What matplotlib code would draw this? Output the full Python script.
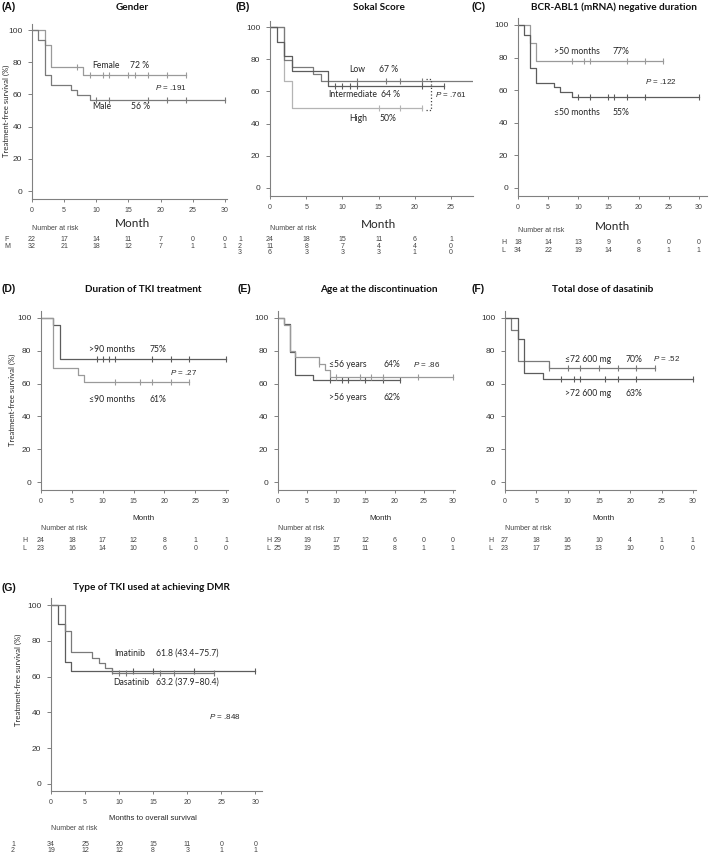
import numpy as np
import matplotlib.pyplot as plt
from matplotlib import transforms

plt.rcParams['font.family'] = ['Liberation Sans', 'DejaVu Sans']
plt.rcParams['mathtext.fontset'] = 'custom'
plt.rcParams['mathtext.rm'] = 'Liberation Sans'
plt.rcParams['mathtext.it'] = 'Liberation Sans:italic'

W, H = 709, 856
LBL = ['Lato', 'DejaVu Sans']
NARROW = ['Liberation Sans Narrow', 'Liberation Sans']
TXT = '#262626'

# ---------------- (A) Gender
a_f_t = [0, 2, 3, 8]
a_f_s = [100, 90.9, 77.3, 72.2]
a_f_end = 24
a_f_cens = [7, 9, 11, 12, 15, 16, 18, 21, 24]
a_m_t = [0, 1, 2, 3, 6, 7, 9]
a_m_s = [100, 93.8, 71.9, 65.6, 62.5, 59.4, 56.3]
a_m_end = 30
a_m_cens = [10, 12, 18, 21, 24, 30]
a_risk_rows = ['F', 'M']
a_risk = [[22, 17, 14, 11, 7, 0, 0], [32, 21, 18, 12, 7, 1, 1]]

# ---------------- (B) Sokal score
b_low_t = [0, 2, 3, 6, 7]
b_low_s = [100, 79.2, 75.0, 70.8, 66.7]
b_low_end = 27.9
b_low_cens = [12, 16, 18, 21]
b_int_t = [0, 1, 2, 3, 8]
b_int_s = [100, 90.9, 81.8, 72.7, 63.6]
b_int_end = 24
b_int_cens = [9, 10, 11, 12, 21, 24]
b_high_t = [0, 2, 3]
b_high_s = [100, 66.7, 50.0]
b_high_end = 21
b_high_cens = [15, 18, 21]
b_bracket_x = [21.5, 22.2, 22.2, 21.5]
b_bracket_y = [67.5, 67.5, 48.5, 48.5]
b_risk_rows = ['1', '2', '3']
b_risk = [[24, 18, 15, 11, 6, 1], [11, 8, 7, 4, 4, 0], [6, 3, 3, 3, 1, 0]]

# ---------------- (C) BCR-ABL1 negative duration
c_h_t = [0, 2, 3]
c_h_s = [100, 88.9, 77.8]
c_h_end = 24
c_h_cens = [9, 11, 12, 18, 21, 24]
c_l_t = [0, 1, 2, 3, 6, 7, 9]
c_l_s = [100, 94.1, 73.5, 64.7, 61.8, 58.8, 55.9]
c_l_end = 30
c_l_cens = [10, 12, 15, 16, 18, 21, 30]
c_risk_rows = ['H', 'L']
c_risk = [[18, 14, 13, 9, 6, 0, 0], [34, 22, 19, 14, 8, 1, 1]]

# ---------------- (D) Duration of TKI treatment
d_h_t = [0, 2, 3]
d_h_s = [100, 95.8, 75.0]
d_h_end = 30
d_h_cens = [9, 10, 11, 12, 18, 21, 24, 30]
d_l_t = [0, 2, 6, 7]
d_l_s = [100, 69.6, 65.2, 60.9]
d_l_end = 24
d_l_cens = [12, 16, 18, 21, 24]
d_risk_rows = ['H', 'L']
d_risk = [[24, 18, 17, 12, 8, 1, 1], [23, 16, 14, 10, 6, 0, 0]]

# ---------------- (E) Age at the discontinuation
e_l_t = [0, 1, 2, 3, 7, 8, 9]
e_l_s = [100, 96.0, 80.0, 76.0, 72.0, 68.0, 64.0]
e_l_end = 30
e_l_cens = [7, 10, 14, 16, 18, 24, 30]
e_h_t = [0, 1, 2, 3, 6]
e_h_s = [100, 96.6, 79.3, 65.5, 62.1]
e_h_end = 21
e_h_cens = [9, 11, 12, 15, 18, 21]
e_risk_rows = ['H', 'L']
e_risk = [[29, 19, 17, 12, 6, 0, 0], [25, 19, 15, 11, 8, 1, 1]]

# ---------------- (F) Total dose of dasatinib
f_lo_t = [0, 1, 2, 7]
f_lo_s = [100, 92.6, 73.9, 69.6]
f_lo_end = 24
f_lo_cens = [7, 10, 12, 15, 18, 21, 24]
f_hi_t = [0, 2, 3, 6]
f_hi_s = [100, 87.0, 66.7, 63.0]
f_hi_end = 30
f_hi_cens = [9, 11, 12, 16, 18, 21, 30]
f_risk_rows = ['H', 'L']
f_risk = [[27, 18, 16, 10, 4, 1, 1], [23, 17, 15, 13, 10, 0, 0]]

# ---------------- (G) Type of TKI
g_ima_t = [0, 2, 3, 6, 7, 8, 9]
g_ima_s = [100, 85.3, 73.5, 70.6, 67.6, 64.7, 61.8]
g_ima_end = 24
g_ima_cens = [10, 11, 16, 18, 24]
g_das_t = [0, 1, 2, 3]
g_das_s = [100, 89.5, 68.4, 63.2]
g_das_end = 30
g_das_cens = [9, 12, 15, 21, 30]
g_risk_rows = ['1', '2']
g_risk = [[34, 25, 20, 15, 11, 0, 0], [19, 12, 12, 8, 3, 1, 1]]

months30 = [0, 5, 10, 15, 20, 25, 30]
months25 = [0, 5, 10, 15, 20, 25]
yticks = [0, 20, 40, 60, 80, 100]

fig = plt.figure(figsize=(W / 100, H / 100), dpi=100)


def px(x, y):
    return x / W, 1 - y / H


def make_ax(left, ppm, xmax, y100, y0, xticks, ymin=-5, ymax=104, ylabpad=4):
    ppu = (y0 - y100) / 100.0
    top = y100 - (ymax - 100) * ppu
    bottom = y0 - ymin * ppu
    right = left + xmax * ppm
    ax = fig.add_axes([left / W, 1 - bottom / H, (right - left) / W, (bottom - top) / H])
    ax.set_xlim(0, xmax)
    ax.set_ylim(ymin, ymax)
    for s in ['top', 'right']:
        ax.spines[s].set_visible(False)
    for s in ['left', 'bottom']:
        ax.spines[s].set_color('#808080')
        ax.spines[s].set_linewidth(0.8)
    ax.set_xticks(xticks)
    ax.set_yticks(yticks)
    ax.tick_params(axis='y', length=3, width=0.7, color='#808080', labelsize=6,
                   pad=ylabpad, labelcolor='#333333')
    ax.tick_params(axis='x', length=2.5, width=0.7, color='#808080', labelsize=5,
                   pad=3, labelcolor='#444444')
    ax.patch.set_alpha(0)
    return ax


def km(ax, t, s, end, cens, color):
    tt = list(t) + [end]
    ss = list(s) + [s[-1]]
    ax.step(tt, ss, where='post', color=color, lw=0.9)
    idx = np.searchsorted(t, cens, side='right') - 1
    ax.plot(cens, np.array(s)[idx], ls='none', marker='|', ms=4.5, mew=0.8, color=color)


def note(ax, x, y, s, size=6.2, fam=LBL):
    ax.text(x, y, s, fontsize=size, family=fam, color=TXT, ha='left', va='center')


def pval(ax, x, y, s):
    ax.text(x, y, r'$P$ = ' + s, fontsize=5.8, color=TXT, ha='left', va='center')


def heading(letter, lx, title, cx, y):
    fig.text(*px(lx, y), letter, fontsize=7.5, fontweight='bold', color='#111111',
             ha='left', va='center')
    fig.text(*px(cx, y), title, fontsize=7.2, fontweight='bold', family=LBL,
             color='#111111', ha='center', va='center')


def risk_table(ax, months, rows, values, lab_x, head_y, row_ys):
    trans = transforms.blended_transform_factory(ax.transData, fig.transFigure)
    ax.text(0, 1 - head_y / H, 'Number at risk', transform=trans, fontsize=5,
            family=NARROW, color='#444444', ha='left', va='center')
    for lab, vals, ry in zip(rows, values, row_ys):
        fig.text(*px(lab_x, ry), lab, fontsize=5, family=NARROW, color='#444444',
                 ha='left', va='center')
        for m, v in zip(months, vals):
            ax.text(m, 1 - ry / H, str(v), transform=trans, fontsize=5,
                    family=NARROW, color='#444444', ha='center', va='center')


def ylab(x, y, size=5.6):
    fig.text(*px(x, y), 'Treatment-free survival (%)', rotation=90, fontsize=size,
             family=LBL, color=TXT, ha='center', va='center')


LIGHT, MID, DARK = '#9a9a9a', '#7a7a7a', '#5c5c5c'

# ---- A
ax = make_ax(32, 6.43, 30.3, 30, 191, months30)
km(ax, a_f_t, a_f_s, a_f_end, a_f_cens, LIGHT)
km(ax, a_m_t, a_m_s, a_m_end, a_m_cens, MID)
note(ax, 9.4, 78, 'Female')
note(ax, 15.3, 78, '72 %')
pval(ax, 19.1, 64.4, '.191')
note(ax, 9.4, 52.4, 'Male')
note(ax, 15.4, 52.4, '56 %')
heading('(A)', 2, 'Gender', 132, 7)
fig.text(*px(132, 223), 'Month', fontsize=8.5, family=LBL, color=TXT, ha='center', va='center')
ylab(6, 111)
risk_table(ax, months30, a_risk_rows, a_risk, 4, 228, [239, 246])

# ---- B
ax = make_ax(270, 7.24, 28.0, 27, 188, months25)
km(ax, b_high_t, b_high_s, b_high_end, b_high_cens, '#b4b4b4')
km(ax, b_low_t, b_low_s, b_low_end, b_low_cens, MID)
km(ax, b_int_t, b_int_s, b_int_end, b_int_cens, DARK)
ax.plot(b_bracket_x, b_bracket_y, ls=':', color='#444444', lw=0.9)
note(ax, 11.0, 73.7, 'Low')
note(ax, 15.1, 73.7, '67 %')
note(ax, 8.1, 57.8, 'Intermediate')
note(ax, 15.3, 57.8, '64 %')
note(ax, 11.0, 42.9, 'High')
note(ax, 15.1, 42.9, '50%')
pval(ax, 22.8, 57.8, '.761')
heading('(B)', 236, 'Sokal Score', 379, 7)
fig.text(*px(379, 224), 'Month', fontsize=8.5, family=LBL, color=TXT, ha='center', va='center')
risk_table(ax, months25, b_risk_rows, b_risk, 238, 228, [239, 246, 253])

# ---- C
ax = make_ax(518, 6.03, 31.3, 25, 188, months30)
km(ax, c_h_t, c_h_s, c_h_end, c_h_cens, LIGHT)
km(ax, c_l_t, c_l_s, c_l_end, c_l_cens, DARK)
note(ax, 6.0, 83.6, '>50 months')
note(ax, 15.6, 83.6, '77%')
pval(ax, 21.1, 65.6, '.122')
note(ax, 6.0, 46.4, '\u226450 months')
note(ax, 15.6, 46.4, '55%')
heading('(C)', 472, 'BCR-ABL1 (mRNA) negative duration', 614, 7)
fig.text(*px(612, 227), 'Month', fontsize=8.5, family=LBL, color=TXT, ha='center', va='center')
risk_table(ax, months30, c_risk_rows, c_risk, 501, 230, [243, 251])

# ---- D
ax = make_ax(41, 6.17, 30.3, 318, 482, months30)
km(ax, d_h_t, d_h_s, d_h_end, d_h_cens, DARK)
km(ax, d_l_t, d_l_s, d_l_end, d_l_cens, LIGHT)
note(ax, 7.8, 80.5, '>90 months')
note(ax, 17.6, 80.5, '75%')
pval(ax, 20.9, 66.9, '.27')
note(ax, 7.8, 50.6, '\u226490 months')
note(ax, 17.6, 50.6, '61%')
heading('(D)', 2, 'Duration of TKI treatment', 143, 289)
fig.text(*px(143, 519), 'Month', fontsize=5.8, color=TXT, ha='center', va='center')
ylab(12, 400)
risk_table(ax, months30, d_risk_rows, d_risk, 22, 528, [541, 548])

# ---- E
ax = make_ax(278, 5.83, 30.3, 318, 482, months30)
km(ax, e_h_t, e_h_s, e_h_end, e_h_cens, DARK)
km(ax, e_l_t, e_l_s, e_l_end, e_l_cens, LIGHT)
note(ax, 8.7, 71.8, '\u226456 years')
note(ax, 18.1, 71.8, '64%')
pval(ax, 23.2, 71.8, '.86')
note(ax, 8.7, 51.4, '>56 years')
note(ax, 18.1, 51.4, '62%')
heading('(E)', 237, 'Age at the discontinuation', 379, 289)
fig.text(*px(380, 519), 'Month', fontsize=5.8, color=TXT, ha='center', va='center')
risk_table(ax, months30, e_risk_rows, e_risk, 266, 528, [541, 548])

# ---- F
ax = make_ax(505, 6.26, 30.5, 318, 482, months30)
km(ax, f_lo_t, f_lo_s, f_lo_end, f_lo_cens, MID)
km(ax, f_hi_t, f_hi_s, f_hi_end, f_hi_cens, DARK)
note(ax, 9.6, 75, '\u226472 600 mg')
note(ax, 19.3, 75, '70%')
pval(ax, 23.6, 75.5, '.52')
note(ax, 9.6, 54, '>72 600 mg')
note(ax, 19.3, 54, '63%')
heading('(F)', 472, 'Total dose of dasatinib', 603, 289)
fig.text(*px(603, 519), 'Month', fontsize=5.8, color=TXT, ha='center', va='center')
risk_table(ax, months30, f_risk_rows, f_risk, 488, 528, [541, 548])

# ---- G
ax = make_ax(51, 6.81, 31.0, 605, 784, months30, ymin=-4)
km(ax, g_das_t, g_das_s, g_das_end, g_das_cens, DARK)
km(ax, g_ima_t, g_ima_s, g_ima_end, g_ima_cens, MID)
note(ax, 9.3, 73, 'Imatinib')
note(ax, 15.4, 73, '61.8 (43.4\u201375.7)')
note(ax, 9.1, 56.8, 'Dasatinib')
note(ax, 15.4, 56.8, '63.2 (37.9\u201380.4)')
pval(ax, 23.2, 37.6, '.848')
heading('(G)', 2, 'Type of TKI used at achieving DMR', 151, 588)
fig.text(*px(153, 819), 'Months to overall survival', fontsize=5.6, color=TXT,
         ha='center', va='center')
ylab(18, 680)
risk_table(ax, months30, g_risk_rows, g_risk, 11, 829, [844, 851])

fig.savefig('out.png', dpi=100)
